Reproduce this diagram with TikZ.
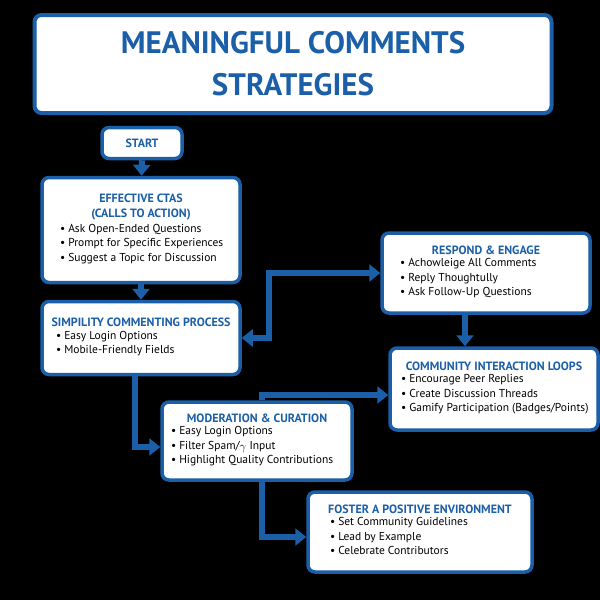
\documentclass[tikz,border=0pt]{standalone}
\usepackage{fontspec}
\setmainfont{PT Sans}
\usetikzlibrary{arrows.meta}
\definecolor{mblue}{HTML}{1B5FA8}
\tikzset{
  box/.style={draw=mblue, line width=3.5pt, fill=white, rounded corners=7pt, align=center, inner sep=2pt, font=\fontsize{11.5}{14.5}\selectfont},
  link/.style={draw=mblue, line width=6pt, -{Triangle[length=11pt,width=17pt]}},
}
\newcommand{\hd}[1]{{\color{mblue}\bfseries\fontsize{12}{15.5}\selectfont #1}}
% bullet list, left edge fixed by the width of the holding box
\newcommand{\items}[2]{\makebox[#1][l]{\begin{tabular}{@{}l@{}}#2\end{tabular}}}
\begin{document}
\begin{tikzpicture}[x=1pt,y=-1pt]
  \fill[black] (0,0) rectangle (600,600);
  \useasboundingbox (0,0) rectangle (600,600);

  \node[box, minimum width=517pt, minimum height=98pt, line width=4pt, text=mblue,
        font=\bfseries\fontsize{31}{42}\selectfont] (title) at (293,64)
    {MEANINGFUL COMMENTS\\STRATEGIES};
  \node[box, minimum width=80pt, minimum height=31pt] (start) at (142,143) {\hd{START}};
  \node[box, minimum width=198pt, minimum height=105pt] (cta) at (141,230)
    {\hd{EFFECTIVE CTAS}\\ \hd{{(}CALLS TO ACTION{)}}\\[1pt]
     \items{162pt}{• Ask Open-Ended Questions\\• Prompt for Specific Experiences\\• Suggest a Topic for Discussion}};
  \node[box, minimum width=198pt, minimum height=73pt] (simp) at (141,338)
    {\hd{SIMPILITY COMMENTING PROCESS}\\[1pt]
     \items{170pt}{• Easy Login Options\\• Mobile-Friendly Fields}};
  \node[box, minimum width=208pt, minimum height=80pt] (resp) at (486,273)
    {\hd{RESPOND \& ENGAGE}\\[1pt]
     \items{172pt}{• Achowleige All Comments\\• Reply Thoughtully\\• Ask Follow-Up Questions}};
  \node[box, minimum width=208pt, minimum height=82pt] (comm) at (494,389)
    {\hd{COMMUNITY INTERACTION LOOPS}\\[1pt]
     \items{186pt}{• Encourage Peer Replies\\• Create Discussion Threads\\• Gamify Participation {(}Badges/Points{)}}};
  \node[box, minimum width=190pt, minimum height=78pt] (mod) at (257,441)
    {\hd{MODERATION \& CURATION}\\[1pt]
     \items{172pt}{• Easy Login Options\\• Filter Spam/\raisebox{-1pt}{$\gamma$} Input\\• Highlight Quality Contributions}};
  \node[box, minimum width=224pt, minimum height=80pt] (fost) at (420,532)
    {\hd{FOSTER A POSITIVE ENVIRONMENT}\\[1pt]
     \items{180pt}{• Set Community Guidelines\\• Lead by Example\\• Celebrate Contributors}};

  \draw[link] (start) -- (cta);
  \draw[link] (cta) -- (simp);
  \draw[link, {Triangle[length=11pt,width=17pt]}-{Triangle[length=11pt,width=17pt]}]
    (simp.east) -- ++(27,0) |- (resp.west);
  \draw[link] ([xshift=-21pt]resp.south) -- ([xshift=-21pt]resp.south |- comm.north);
  \draw[link] ([xshift=-6pt]simp.south) |- ([yshift=-6pt]mod.west);
  \draw[link] ([xshift=5pt]mod.north) |- ([yshift=-6pt]comm.west);
  \draw[link] ([xshift=5pt]mod.south) |- ([yshift=-5pt]fost.west);
\end{tikzpicture}
\end{document}
